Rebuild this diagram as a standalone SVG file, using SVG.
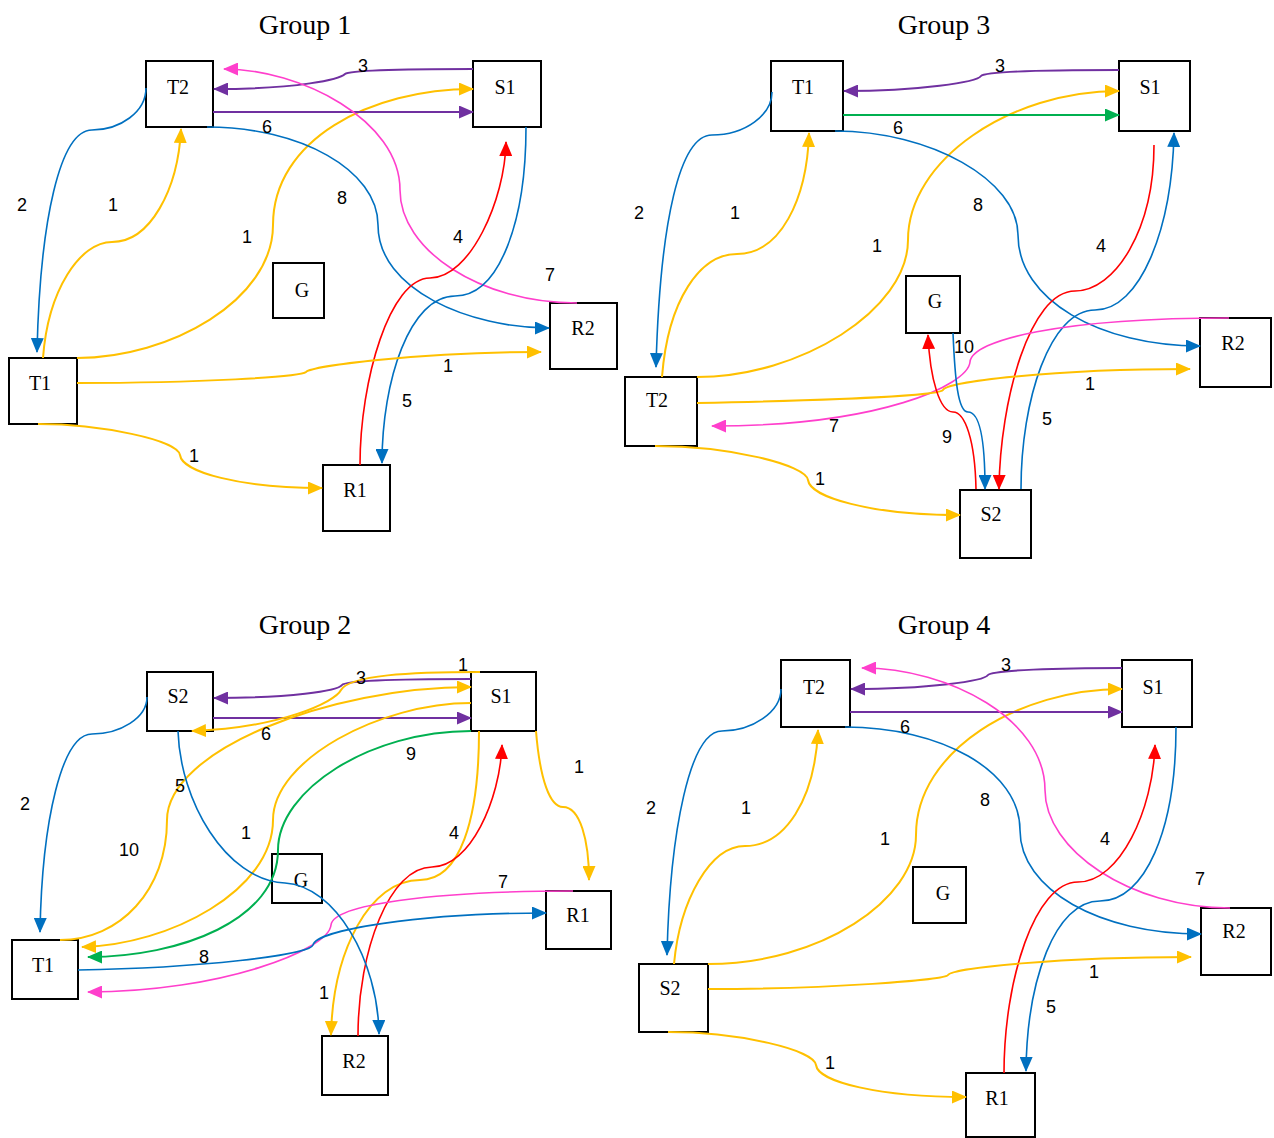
<svg xmlns="http://www.w3.org/2000/svg" width="1274" height="1138" viewBox="0 0 1274 1138">
<style>
.title{font-family:"Liberation Serif",serif;font-size:28px;text-anchor:middle;fill:#000}
.box{fill:#fff;stroke:#000;stroke-width:2}
.nl{font-family:"Liberation Serif",serif;font-size:20px;text-anchor:middle;fill:#000}
.el{font-family:"Liberation Sans",Arial,sans-serif;font-size:18px;text-anchor:middle;fill:#000}
.c{fill:none;stroke-width:1.6}
.b{stroke:#0070C0;marker-end:url(#mb)}
.y{stroke:#FFC000;stroke-width:2;marker-end:url(#my)}
.p{stroke:#7030A0;stroke-width:2;marker-end:url(#mp)}
.r{stroke:#FF0000;marker-end:url(#mr)}
.k{stroke:#FF3FCC;marker-end:url(#mk)}
.g{stroke:#00B050;stroke-width:2;marker-end:url(#mg)}
</style>
<defs>
<marker id="mb" markerUnits="userSpaceOnUse" markerWidth="15" markerHeight="13" refX="14" refY="6.5" orient="auto"><path d="M0,0 L15,6.5 L0,13 z" fill="#0070C0"/></marker>
<marker id="my" markerUnits="userSpaceOnUse" markerWidth="15" markerHeight="13" refX="14" refY="6.5" orient="auto"><path d="M0,0 L15,6.5 L0,13 z" fill="#FFC000"/></marker>
<marker id="mp" markerUnits="userSpaceOnUse" markerWidth="15" markerHeight="13" refX="14" refY="6.5" orient="auto"><path d="M0,0 L15,6.5 L0,13 z" fill="#7030A0"/></marker>
<marker id="mr" markerUnits="userSpaceOnUse" markerWidth="15" markerHeight="13" refX="14" refY="6.5" orient="auto"><path d="M0,0 L15,6.5 L0,13 z" fill="#FF0000"/></marker>
<marker id="mk" markerUnits="userSpaceOnUse" markerWidth="15" markerHeight="13" refX="14" refY="6.5" orient="auto"><path d="M0,0 L15,6.5 L0,13 z" fill="#FF3FCC"/></marker>
<marker id="mg" markerUnits="userSpaceOnUse" markerWidth="15" markerHeight="13" refX="14" refY="6.5" orient="auto"><path d="M0,0 L15,6.5 L0,13 z" fill="#00B050"/></marker>
</defs>
<rect width="1274" height="1138" fill="#fff"/>

<!-- Titles -->
<text class="title" x="305" y="34">Group 1</text>
<text class="title" x="944" y="34">Group 3</text>
<text class="title" x="305" y="634">Group 2</text>
<text class="title" x="944" y="634">Group 4</text>

<!-- Group 1 nodes -->
<g id="g1-T2"><rect class="box" x="146" y="61" width="67" height="66"/><text class="nl" x="178" y="94">T2</text></g>
<g id="g1-S1"><rect class="box" x="473" y="61" width="68" height="66"/><text class="nl" x="505" y="94">S1</text></g>
<g id="g1-G"><rect class="box" x="273" y="263" width="51" height="55"/><text class="nl" x="302" y="297">G</text></g>
<g id="g1-T1"><rect class="box" x="9" y="358" width="68" height="66"/><text class="nl" x="40" y="390">T1</text></g>
<g id="g1-R2"><rect class="box" x="550" y="303" width="67" height="66"/><text class="nl" x="583" y="335">R2</text></g>
<g id="g1-R1"><rect class="box" x="323" y="465" width="67" height="66"/><text class="nl" x="355" y="497">R1</text></g>

<!-- Group 3 nodes -->
<g id="g3-T1"><rect class="box" x="771" y="61" width="72" height="70"/><text class="nl" x="803" y="94">T1</text></g>
<g id="g3-S1"><rect class="box" x="1119" y="61" width="71" height="70"/><text class="nl" x="1150" y="94">S1</text></g>
<g id="g3-G"><rect class="box" x="906" y="276" width="54" height="57"/><text class="nl" x="935" y="308">G</text></g>
<g id="g3-R2"><rect class="box" x="1200" y="318" width="71" height="69"/><text class="nl" x="1233" y="350">R2</text></g>
<g id="g3-T2"><rect class="box" x="625" y="377" width="72" height="69"/><text class="nl" x="657" y="407">T2</text></g>
<g id="g3-S2"><rect class="box" x="960" y="490" width="71" height="68"/><text class="nl" x="991" y="521">S2</text></g>

<!-- Group 2 nodes -->
<g id="g2-S2"><rect class="box" x="147" y="672" width="66" height="59"/><text class="nl" x="178" y="703">S2</text></g>
<g id="g2-S1"><rect class="box" x="471" y="672" width="65" height="59"/><text class="nl" x="501" y="703">S1</text></g>
<g id="g2-G"><rect class="box" x="272" y="854" width="50" height="49"/><text class="nl" x="301" y="887">G</text></g>
<g id="g2-R1"><rect class="box" x="546" y="891" width="65" height="58"/><text class="nl" x="578" y="922">R1</text></g>
<g id="g2-T1"><rect class="box" x="12" y="940" width="66" height="59"/><text class="nl" x="43" y="972">T1</text></g>
<g id="g2-R2"><rect class="box" x="322" y="1036" width="66" height="59"/><text class="nl" x="354" y="1068">R2</text></g>

<!-- Group 4 nodes -->
<g id="g4-T2"><rect class="box" x="781" y="660" width="69" height="67"/><text class="nl" x="814" y="694">T2</text></g>
<g id="g4-S1"><rect class="box" x="1122" y="660" width="70" height="67"/><text class="nl" x="1153" y="694">S1</text></g>
<g id="g4-G"><rect class="box" x="913" y="867" width="53" height="56"/><text class="nl" x="943" y="900">G</text></g>
<g id="g4-R2"><rect class="box" x="1201" y="908" width="70" height="67"/><text class="nl" x="1234" y="938">R2</text></g>
<g id="g4-S2"><rect class="box" x="639" y="964" width="69" height="68"/><text class="nl" x="670" y="995">S2</text></g>
<g id="g4-R1"><rect class="box" x="966" y="1073" width="69" height="64"/><text class="nl" x="997" y="1105">R1</text></g>

<!-- Connectors -->
<g id="connectors">
<!-- Group 1 -->
<path class="c b" d="M146,88 C146,112 120,130 92,130 C60,130 40,220 37,352"/>
<path class="c y" d="M43,358 C48,290 80,242 112,242 C150,242 178,190 181,129"/>
<path class="c y" d="M77,358 C170,358 273,300 273,225 C273,140 370,89 473,89"/>
<path class="c p" d="M473,69 C400,69 350,70 345,74 C340,79 300,89 214,89"/>
<path class="c p" d="M213,112 L473,112"/>
<path class="c b" d="M207,127 C300,127 378,170 378,225 C378,290 470,328 549,328"/>
<path class="c k" d="M577,303 C480,303 400,250 400,190 C400,120 300,69 224,69"/>
<path class="c r" d="M360,465 C360,380 390,278 430,278 C470,278 505,200 506,142"/>
<path class="c b" d="M526,127 C526,220 500,296 455,296 C410,296 382,380 382,463"/>
<path class="c y" d="M77,383 C200,383 300,377 306,372 C312,366 420,352 541,352"/>
<path class="c y" d="M38,424 C100,424 178,440 180,455 C182,472 240,488 322,488"/>
<!-- Group 3 -->
<path class="c b" d="M772,92 C772,115 745,135 712,135 C680,135 660,220 656,367"/>
<path class="c y" d="M662,377 C668,300 700,254 737,254 C780,254 807,200 809,133"/>
<path class="c y" d="M697,377 C800,377 908,310 908,240 C908,160 1010,91 1119,91"/>
<path class="c p" d="M1119,70 C1050,70 985,71 981,76 C977,82 920,91 844,91"/>
<path class="c g" d="M843,115 L1119,115"/>
<path class="c b" d="M835,131 C930,131 1018,180 1018,235 C1018,300 1100,346 1200,346"/>
<path class="c r" d="M1154,145 C1154,230 1115,291 1075,291 C1030,291 1000,400 999,489"/>
<path class="c b" d="M1021,489 C1021,400 1050,310 1095,310 C1140,310 1172,230 1174,133"/>
<path class="c k" d="M1229,318 C1060,318 972,340 970,362 C968,385 880,426 712,426"/>
<path class="c y" d="M697,403 C850,400 940,395 943,390 C946,382 1050,369 1190,369"/>
<path class="c y" d="M655,446 C730,446 806,465 808,480 C810,497 870,515 960,515"/>
<path class="c r" d="M976,489 C975,440 965,412 953,412 C940,412 930,380 928,335"/>
<path class="c b" d="M953,333 C955,380 958,412 968,412 C980,412 985,440 985,489"/>
<!-- Group 2 -->
<path class="c b" d="M147,697 C147,718 120,734 92,734 C62,734 42,820 40,932"/>
<path class="c p" d="M471,679 C420,679 346,680 342,685 C338,691 290,698 214,698"/>
<path class="c p" d="M213,718 L471,718"/>
<path class="c y" d="M480,672 C410,672 350,675 341,690 C335,702 280,728 192,731"/>
<path class="c y" d="M60,940 C120,940 167,890 167,820 C167,750 330,687 471,687"/>
<path class="c y" d="M471,703 C380,703 273,760 273,820 C273,890 170,945 82,947"/>
<path class="c y" d="M479,731 C479,820 460,880 420,880 C370,880 333,950 331,1035"/>
<path class="c y" d="M536,731 C540,780 550,807 563,807 C580,807 589,840 589,880"/>
<path class="c g" d="M471,731 C370,731 278,790 278,850 C278,920 180,957 88,957"/>
<path class="c r" d="M358,1036 C358,950 390,867 432,867 C470,867 500,800 502,745"/>
<path class="c k" d="M573,891 C430,891 333,905 331,925 C329,950 220,992 88,992"/>
<path class="c b" d="M78,970 C200,968 310,955 313,945 C316,930 420,913 546,913"/>
<path class="c b" d="M178,731 C180,800 225,880 285,883 C335,886 378,960 379,1034"/>
<!-- Group 4 -->
<path class="c b" d="M781,689 C781,712 752,731 722,731 C690,731 670,830 667,955"/>
<path class="c y" d="M674,964 C680,900 710,846 745,846 C785,846 815,800 818,730"/>
<path class="c y" d="M708,964 C820,964 916,900 916,835 C916,750 1020,689 1122,689"/>
<path class="c p" d="M1122,668 C1060,668 992,670 988,675 C984,681 930,689 851,689"/>
<path class="c p" d="M850,712 L1122,712"/>
<path class="c b" d="M845,727 C940,727 1020,770 1020,830 C1020,890 1100,934 1201,934"/>
<path class="c k" d="M1230,908 C1130,908 1045,850 1045,790 C1045,720 950,668 862,668"/>
<path class="c r" d="M1004,1073 C1004,980 1035,882 1078,882 C1120,882 1153,810 1155,745"/>
<path class="c b" d="M1176,727 C1176,830 1145,901 1100,901 C1055,901 1027,980 1026,1071"/>
<path class="c y" d="M708,989 C830,989 945,980 948,975 C951,968 1060,957 1191,957"/>
<path class="c y" d="M668,1032 C740,1032 814,1050 816,1065 C818,1082 880,1097 966,1097"/>
</g>

<!-- Edge labels -->
<g id="labels">
<text class="el" x="363" y="72">3</text>
<text class="el" x="267" y="133">6</text>
<text class="el" x="22" y="211">2</text>
<text class="el" x="113" y="211">1</text>
<text class="el" x="342" y="204">8</text>
<text class="el" x="247" y="243">1</text>
<text class="el" x="458" y="243">4</text>
<text class="el" x="550" y="281">7</text>
<text class="el" x="448" y="372">1</text>
<text class="el" x="407" y="407">5</text>
<text class="el" x="194" y="462">1</text>

<text class="el" x="1000" y="72">3</text>
<text class="el" x="898" y="134">6</text>
<text class="el" x="639" y="219">2</text>
<text class="el" x="735" y="219">1</text>
<text class="el" x="978" y="211">8</text>
<text class="el" x="877" y="252">1</text>
<text class="el" x="1101" y="252">4</text>
<text class="el" x="964" y="353">10</text>
<text class="el" x="1090" y="390">1</text>
<text class="el" x="1047" y="425">5</text>
<text class="el" x="834" y="432">7</text>
<text class="el" x="947" y="443">9</text>
<text class="el" x="820" y="485">1</text>

<text class="el" x="463" y="671">1</text>
<text class="el" x="361" y="684">3</text>
<text class="el" x="266" y="740">6</text>
<text class="el" x="411" y="760">9</text>
<text class="el" x="579" y="773">1</text>
<text class="el" x="180" y="792">5</text>
<text class="el" x="25" y="810">2</text>
<text class="el" x="246" y="839">1</text>
<text class="el" x="454" y="839">4</text>
<text class="el" x="129" y="856">10</text>
<text class="el" x="503" y="888">7</text>
<text class="el" x="204" y="963">8</text>
<text class="el" x="324" y="999">1</text>

<text class="el" x="1006" y="671">3</text>
<text class="el" x="905" y="733">6</text>
<text class="el" x="651" y="814">2</text>
<text class="el" x="746" y="814">1</text>
<text class="el" x="985" y="806">8</text>
<text class="el" x="885" y="845">1</text>
<text class="el" x="1105" y="845">4</text>
<text class="el" x="1200" y="885">7</text>
<text class="el" x="1094" y="978">1</text>
<text class="el" x="1051" y="1013">5</text>
<text class="el" x="830" y="1069">1</text>
</g>
</svg>
